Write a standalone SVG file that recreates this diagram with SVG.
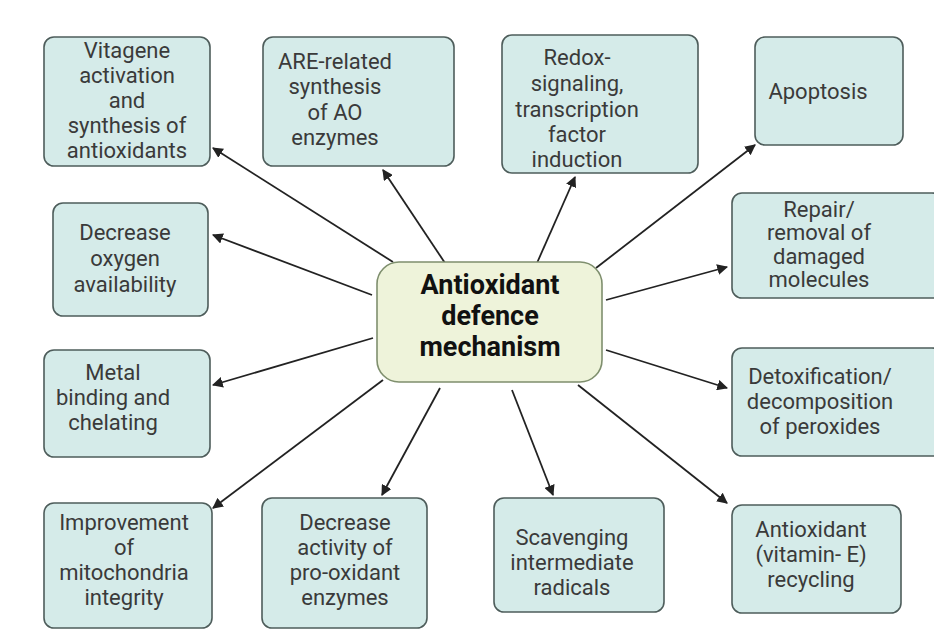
<svg xmlns="http://www.w3.org/2000/svg" width="934" height="631" viewBox="0 0 934 631">
<defs>
<marker id="ah" viewBox="0 0 10 10" refX="9" refY="5" markerWidth="6" markerHeight="6" markerUnits="strokeWidth" orient="auto">
<path d="M0,0 L10,5 L0,10 z" fill="#222"/>
</marker>
<style>
.box{fill:#d5ebe9;stroke:#4e5d5b;stroke-width:1.6}
.hub{fill:#eef3da;stroke:#7f8f6e;stroke-width:1.6}
.t{font-family:Roboto,"Liberation Sans",sans-serif;font-size:22px;fill:#3a3a3a;text-anchor:middle}
.h{font-family:Roboto,"Liberation Sans",sans-serif;font-size:27px;font-weight:bold;fill:#111;text-anchor:middle}
.c line{stroke:#222;stroke-width:1.8;marker-end:url(#ah)}
</style>
</defs>
<rect width="934" height="631" fill="#ffffff"/>
<g class="c" id="connectors">
<line x1="393" y1="262" x2="213" y2="148"/>
<line x1="445" y1="263" x2="383" y2="170"/>
<line x1="537" y1="263" x2="575" y2="177"/>
<line x1="596" y1="268" x2="755" y2="145"/>
<line x1="606" y1="300" x2="727" y2="267"/>
<line x1="606" y1="350" x2="727" y2="388"/>
<line x1="578" y1="385" x2="727" y2="503"/>
<line x1="512" y1="390" x2="553" y2="495"/>
<line x1="440" y1="388" x2="382" y2="495"/>
<line x1="383" y1="380" x2="213" y2="508"/>
<line x1="373" y1="338" x2="213" y2="385"/>
<line x1="372" y1="295" x2="213" y2="235"/>
</g>
<g id="hub">
<rect class="hub" x="377" y="262" width="225" height="120" rx="22"/>
<text class="h" x="490" y="294">Antioxidant</text>
<text class="h" x="490" y="325">defence</text>
<text class="h" x="490" y="356">mechanism</text>
</g>
<g id="vitagene">
<rect class="box" x="44" y="37" width="166" height="129" rx="10"/>
<text class="t" x="127" y="58">Vitagene</text>
<text class="t" x="127" y="83">activation</text>
<text class="t" x="127" y="108">and</text>
<text class="t" x="127" y="133">synthesis of</text>
<text class="t" x="127" y="158">antioxidants</text>
</g>
<g id="are">
<rect class="box" x="263" y="37" width="191" height="129" rx="10"/>
<text class="t" x="335" y="69">ARE-related</text>
<text class="t" x="335" y="94">synthesis</text>
<text class="t" x="335" y="120">of AO</text>
<text class="t" x="335" y="145">enzymes</text>
</g>
<g id="redox">
<rect class="box" x="502" y="35" width="196" height="138" rx="10"/>
<text class="t" x="577" y="65">Redox-</text>
<text class="t" x="577" y="91">signaling,</text>
<text class="t" x="577" y="117">transcription</text>
<text class="t" x="577" y="142">factor</text>
<text class="t" x="577" y="167">induction</text>
</g>
<g id="apoptosis">
<rect class="box" x="755" y="37" width="148" height="108" rx="10"/>
<text class="t" x="818" y="99">Apoptosis</text>
</g>
<g id="repair">
<rect class="box" x="732" y="193" width="210" height="105" rx="10"/>
<text class="t" x="819" y="217">Repair/</text>
<text class="t" x="819" y="240">removal of</text>
<text class="t" x="819" y="264">damaged</text>
<text class="t" x="819" y="287">molecules</text>
</g>
<g id="oxygen">
<rect class="box" x="53" y="203" width="155" height="113" rx="10"/>
<text class="t" x="125" y="240">Decrease</text>
<text class="t" x="125" y="266">oxygen</text>
<text class="t" x="125" y="292">availability</text>
</g>
<g id="metal">
<rect class="box" x="44" y="350" width="166" height="107" rx="10"/>
<text class="t" x="113" y="380">Metal</text>
<text class="t" x="113" y="405">binding and</text>
<text class="t" x="113" y="430">chelating</text>
</g>
<g id="detox">
<rect class="box" x="732" y="348" width="210" height="108" rx="10"/>
<text class="t" x="820" y="384">Detoxification/</text>
<text class="t" x="820" y="409">decomposition</text>
<text class="t" x="820" y="434">of peroxides</text>
</g>
<g id="mito">
<rect class="box" x="44" y="503" width="168" height="125" rx="10"/>
<text class="t" x="124" y="530">Improvement</text>
<text class="t" x="124" y="555">of</text>
<text class="t" x="124" y="580">mitochondria</text>
<text class="t" x="124" y="605">integrity</text>
</g>
<g id="prooxidant">
<rect class="box" x="262" y="498" width="165" height="130" rx="10"/>
<text class="t" x="345" y="530">Decrease</text>
<text class="t" x="345" y="555">activity of</text>
<text class="t" x="345" y="580">pro-oxidant</text>
<text class="t" x="345" y="605">enzymes</text>
</g>
<g id="scavenging">
<rect class="box" x="494" y="498" width="170" height="114" rx="10"/>
<text class="t" x="572" y="545">Scavenging</text>
<text class="t" x="572" y="570">intermediate</text>
<text class="t" x="572" y="595">radicals</text>
</g>
<g id="vitamine">
<rect class="box" x="732" y="505" width="169" height="108" rx="10"/>
<text class="t" x="811" y="537">Antioxidant</text>
<text class="t" x="811" y="562">(vitamin- E)</text>
<text class="t" x="811" y="587">recycling</text>
</g>
</svg>
